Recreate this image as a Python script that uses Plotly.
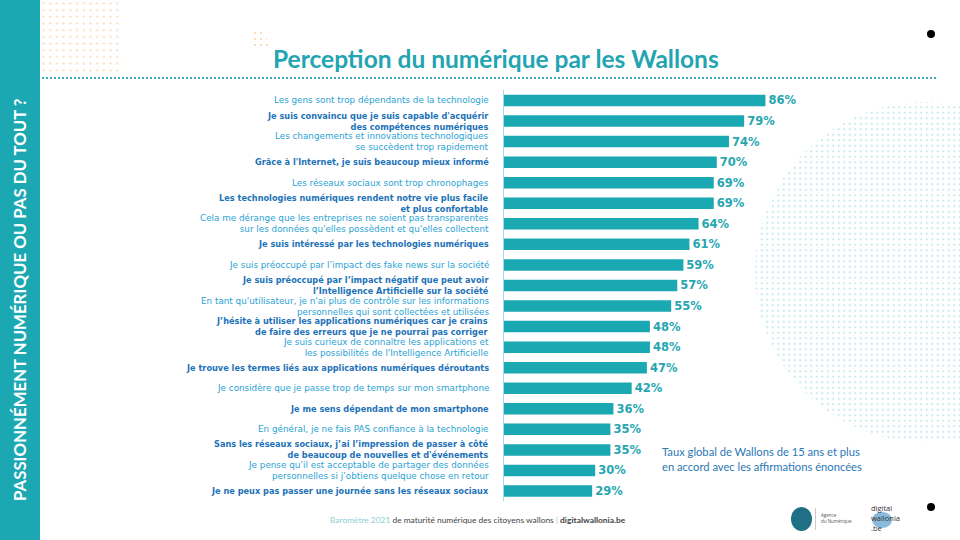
import numpy as np
import plotly.graph_objects as go

# ---------------- data ----------------
statements = [
    "Les gens sont trop dépendants de la technologie",
    "Je suis convaincu que je suis capable d'acquérir<br>des compétences numériques",
    "Les changements et innovations technologiques<br>se succèdent trop rapidement",
    "Grâce à l'Internet, je suis beaucoup mieux informé",
    "Les réseaux sociaux sont trop chronophages",
    "Les technologies numériques rendent notre vie plus facile<br>et plus confortable",
    "Cela me dérange que les entreprises ne soient pas transparentes<br>sur les données qu'elles possèdent et qu'elles collectent",
    "Je suis intéressé par les technologies numériques",
    "Je suis préoccupé par l’impact des fake news sur la société",
    "Je suis préoccupé par l’impact négatif que peut avoir<br>l’Intelligence Artificielle sur la société",
    "En tant qu'utilisateur, je n'ai plus de contrôle sur les informations<br>personnelles qui sont collectées et utilisées",
    "J’hésite à utiliser les applications numériques car je crains<br>de faire des erreurs que je ne pourrai pas corriger",
    "Je suis curieux de connaître les applications et<br>les possibilités de l'Intelligence Artificielle",
    "Je trouve les termes liés aux applications numériques déroutants",
    "Je considère que je passe trop de temps sur mon smartphone",
    "Je me sens dépendant de mon smartphone",
    "En général, je ne fais PAS confiance à la technologie",
    "Sans les réseaux sociaux, j’ai l’impression de passer à côté<br>de beaucoup de nouvelles et d'événements",
    "Je pense qu’il est acceptable de partager des données<br>personnelles si j’obtiens quelque chose en retour",
    "Je ne peux pas passer une journée sans les réseaux sociaux",
]
agree_pct = [86, 79, 74, 70, 69, 69, 64, 61, 59, 57, 55, 48, 48, 47, 42, 36, 35, 35, 30, 29]

title_text = "Perception du numérique par les Wallons"
side_text = "PASSIONNÉMENT NUMÉRIQUE OU PAS DU TOUT ?"
note_text = "Taux global de Wallons de 15 ans et plus<br>en accord avec les affirmations énoncées"

# ---------------- styles ----------------
TEAL = "#1ca8b2"
BAR = "#1aa8b2"
VAL = "#25a6b1"
DARK_LBL = "#1d72b8"
LIGHT_LBL = "#2aa3d5"
FONT = "DejaVu Sans"
CAL = "Lato"

pos = list(range(len(statements)))

fig = go.Figure()

fig.add_trace(go.Bar(
    x=agree_pct, y=pos, orientation="h",
    marker=dict(color=BAR, line=dict(width=0)),
    width=0.56,
    text=[f"{v}%" for v in agree_pct],
    textposition="outside", constraintext="none",
    textfont=dict(family=FONT, size=11.5, color=VAL, weight="bold"),
    cliponaxis=False, hoverinfo="skip", showlegend=False,
))

annotations = []
for i, (s, v) in enumerate(zip(statements, agree_pct)):
    bold = (i % 2 == 1)
    annotations.append(dict(
        x=0, y=i, xref="x", yref="y", xanchor="right", yanchor="middle",
        xshift=-13, align="right", showarrow=False,
        text=f"<b>{s}</b>" if bold else s,
        font=dict(family=FONT, size=8.2 if bold else 8.8, color=DARK_LBL if bold else LIGHT_LBL),
    ))

# ---------------- decorations (pixel coords via x2/y2) ----------------
theta = np.linspace(0, 2 * np.pi, 181)
cx, cy, r = 925, 272, 170
fig.add_trace(go.Scatter(
    x=cx + r * np.cos(theta), y=cy + r * np.sin(theta),
    xaxis="x2", yaxis="y2", mode="lines", fill="toself",
    line=dict(width=0), fillcolor="rgba(0,0,0,0)",
    fillpattern=dict(shape=".", fgcolor="#8fd1d8", bgcolor="rgba(0,0,0,0)", size=5.5, solidity=0.12),
    hoverinfo="skip", showlegend=False,
))
fig.add_trace(go.Scatter(
    x=[42, 120, 120, 42, 42], y=[0, 0, 72, 72, 0],
    xaxis="x2", yaxis="y2", mode="lines", fill="toself",
    line=dict(width=0), fillcolor="rgba(0,0,0,0)",
    fillpattern=dict(shape=".", fgcolor="#f3a94f", bgcolor="rgba(0,0,0,0)", size=6.7, solidity=0.08),
    hoverinfo="skip", showlegend=False,
))
fig.add_trace(go.Scatter(
    x=[250, 262, 272, 250, 250], y=[30, 30, 49, 49, 30],
    xaxis="x2", yaxis="y2", mode="lines", fill="toself",
    line=dict(width=0), fillcolor="rgba(0,0,0,0)",
    fillpattern=dict(shape=".", fgcolor="#f3a94f", bgcolor="rgba(0,0,0,0)", size=6, solidity=0.1),
    hoverinfo="skip", showlegend=False,
))

shapes = [
    dict(type="rect", xref="x2", yref="y2", x0=0, x1=40, y0=0, y1=540,
         fillcolor=TEAL, line=dict(width=0), layer="below"),
    dict(type="line", xref="x2", yref="y2", x0=42, x1=937, y0=78, y1=78,
         line=dict(color="#3aabb6", width=2, dash="2px,2px")),
    dict(type="circle", xref="x2", yref="y2", x0=927, x1=935, y0=30, y1=38,
         fillcolor="black", line=dict(width=0)),
    dict(type="circle", xref="x2", yref="y2", x0=927, x1=935, y0=503, y1=511,
         fillcolor="black", line=dict(width=0)),
    # logo marks
    dict(type="circle", xref="x2", yref="y2", x0=791, x1=812, y0=507, y1=531,
         fillcolor="#1f6f86", line=dict(width=0)),
    dict(type="line", xref="x2", yref="y2", x0=815.5, x1=815.5, y0=508, y1=530,
         line=dict(color="#bbbbbb", width=0.8)),
    dict(type="circle", xref="x2", yref="y2", x0=872, x1=892, y0=512, y1=528,
         fillcolor="rgba(40,130,190,0.55)", line=dict(width=0)),
]

annotations += [
    dict(x=19, y=300, xref="x2", yref="y2", text=f"<b>{side_text}</b>", textangle=-90,
         showarrow=False, font=dict(family=CAL, size=16.8, color="white")),
    dict(x=496, y=58, xref="x2", yref="y2", text=f"<b>{title_text}</b>",
         showarrow=False, font=dict(family=CAL, size=24.5, color="#22a4b2")),
    dict(x=660, y=459, xref="x2", yref="y2", text=note_text, xanchor="left", align="left",
         showarrow=False, font=dict(family=CAL, size=11.2, color="#2b78b6")),
    dict(x=478, y=520, xref="x2", yref="y2",
         text="<span style='color:#8ccfd5'>Baromètre 2021</span> de maturité numérique des citoyens wallons "
              "<span style='color:#8ccfd5'>|</span> <b>digitalwallonia.be</b>",
         showarrow=False, font=dict(family=CAL, size=8.4, color="#444444")),
    dict(x=819, y=518, xref="x2", yref="y2", text="Agence<br>du Numérique", xanchor="left", align="left",
         showarrow=False, font=dict(family="Open Sans", size=4.5, color="#555555")),
    dict(x=869, y=518, xref="x2", yref="y2", text="digital<br>wallonia<br>.be", xanchor="left", align="left",
         showarrow=False, font=dict(family="Open Sans", size=7.5, color="#333333")),
]

fig.update_layout(
    width=960, height=540,
    margin=dict(l=0, r=0, t=0, b=0),
    paper_bgcolor="white", plot_bgcolor="rgba(0,0,0,0)",
    showlegend=False,
    xaxis=dict(domain=[504 / 960, 1], range=[0, 150], visible=False, fixedrange=True),
    yaxis=dict(domain=[1 - 501.3 / 540, 1 - 90.2 / 540], range=[19.5, -0.5],
               showticklabels=False, showgrid=False, zeroline=False,
               showline=True, linecolor="#a9d9ea", linewidth=1, ticks=""),
    xaxis2=dict(domain=[0, 1], range=[0, 960], visible=False, anchor="y2"),
    yaxis2=dict(domain=[0, 1], range=[540, 0], visible=False, anchor="x2"),
    shapes=shapes,
    annotations=annotations,
)

fig.write_html("out.html", config={"displayModeBar": False},
               post_script="document.body.style.margin='0px';")
